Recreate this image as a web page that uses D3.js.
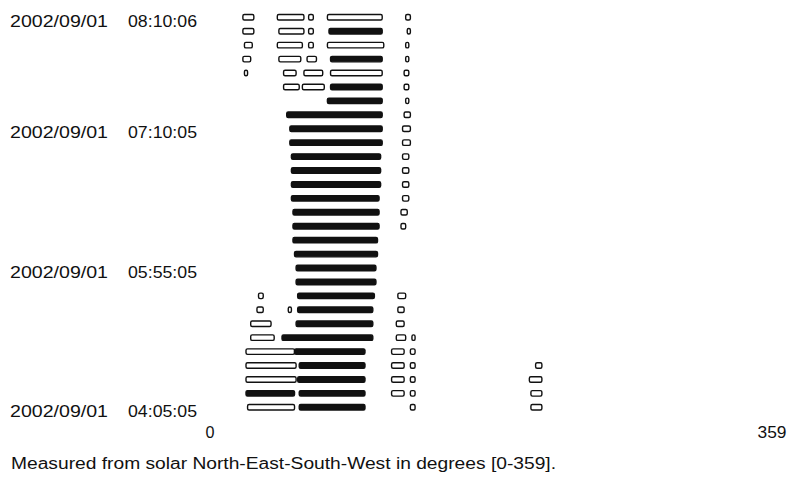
<!DOCTYPE html>
<html>
<head>
<meta charset="utf-8">
<script src="https://cdn.jsdelivr.net/npm/d3@7"></script>
<style>
  body { margin: 0; background: #fff; }
  text { font-family: "Liberation Sans", Arial, sans-serif; fill: #111; }
</style>
</head>
<body>
<div id="chart"></div>
<script>
// rows are numbered from the top (0 = latest reading)
var rowCount = 29

// time labels: [row, date, time]
var timeLabels = [
    [0, "2002/09/01", "08:10:06"],
    [8, "2002/09/01", "07:10:05"],
    [18, "2002/09/01", "05:55:05"],
    [28, "2002/09/01", "04:05:05"]
]

var xTicks = [0, 359]
var caption = "Measured from solar North-East-South-West in degrees [0-359]."

// hollow segments: [row, fromDeg, toDeg]
var hollow = [
    [0, 21, 28], [0, 43, 60], [0, 63, 66], [0, 75, 110], [0, 125, 128],
    [1, 21, 28], [1, 44, 60], [1, 63, 66], [1, 126, 128],
    [2, 22, 27], [2, 43, 59], [2, 63, 66], [2, 75, 111], [2, 125, 127],
    [3, 21, 26], [3, 44, 58], [3, 62, 68], [3, 125, 127],
    [4, 22, 24], [4, 47, 55], [4, 60, 72], [4, 77, 110], [4, 124, 127],
    [5, 47, 57], [5, 59, 73], [5, 124, 127],
    [6, 125, 127],
    [7, 124, 128],
    [8, 123, 128],
    [9, 123, 128],
    [10, 123, 127],
    [11, 123, 127],
    [12, 123, 127],
    [13, 123, 127],
    [14, 122, 126],
    [15, 122, 125],
    [20, 31, 34], [20, 120, 125],
    [21, 30, 34], [21, 50, 52], [21, 120, 124],
    [22, 26, 39], [22, 119, 124],
    [23, 26, 41], [23, 119, 125], [23, 129, 131],
    [24, 23, 54], [24, 116, 124], [24, 128, 131],
    [25, 23, 55], [25, 116, 124], [25, 128, 131], [25, 208, 212],
    [26, 23, 55], [26, 116, 124], [26, 128, 131], [26, 204, 212],
    [27, 116, 124], [27, 128, 131], [27, 205, 212],
    [28, 24, 54], [28, 128, 131], [28, 205, 212]
]

// solid segments: [row, fromDeg, toDeg]
var solid = [
    [1, 76, 110],
    [3, 77, 110],
    [5, 77, 110],
    [6, 75, 110],
    [7, 49, 110],
    [8, 51, 110],
    [9, 51, 110],
    [10, 52, 109],
    [11, 52, 109],
    [12, 52, 109],
    [13, 52, 108],
    [14, 53, 108],
    [15, 53, 108],
    [16, 53, 107],
    [17, 54, 107],
    [18, 55, 106],
    [19, 55, 106],
    [20, 56, 105],
    [21, 56, 104],
    [22, 55, 104],
    [23, 46, 104],
    [24, 54, 99],
    [25, 57, 99],
    [26, 56, 99],
    [27, 23, 54], [27, 57, 99],
    [28, 57, 99]
]

var width = 790,
    height = 478

var svg = d3.select("#chart").append("svg")
    .attr("width", width)
    .attr("height", height)

var x = d3.scaleLinear().domain([0, 359]).range([210, 772]),
    y = d3.scalePoint().domain(d3.range(rowCount)).range([17.3, 407.3])

var barH = 5.5

function drawSegs(data, fill) {
    svg.append("g").selectAll("rect")
        .data(data)
        .enter().append("rect")
        .attr("x", function(d) { return x(d[1]) })
        .attr("y", function(d) { return y(d[0]) - barH / 2 })
        .attr("width", function(d) { return x(d[2]) - x(d[1]) })
        .attr("height", barH)
        .attr("rx", 1.5)
        .attr("fill", fill)
        .attr("stroke", "#111")
        .attr("stroke-width", 1.4)
}
drawSegs(hollow, "#fff")
drawSegs(solid, "#111")

// time labels on the left
var lab = svg.append("g").selectAll("g")
    .data(timeLabels)
    .enter().append("g")
lab.append("text")
    .attr("x", 10)
    .attr("y", function(d) { return y(d[0]) + 9.5 })
    .attr("font-size", 16)
    .attr("textLength", 98)
    .attr("lengthAdjust", "spacingAndGlyphs")
    .text(function(d) { return d[1] })
lab.append("text")
    .attr("x", 128)
    .attr("y", function(d) { return y(d[0]) + 9.5 })
    .attr("font-size", 16)
    .attr("textLength", 69)
    .attr("lengthAdjust", "spacingAndGlyphs")
    .text(function(d) { return d[2] })

// x end labels
svg.append("g").selectAll("text")
    .data(xTicks)
    .enter().append("text")
    .attr("x", function(d) { return x(d) })
    .attr("y", 438)
    .attr("text-anchor", "middle")
    .attr("font-size", 16)
    .attr("textLength", function(d) { return d == 0 ? 9 : 29 })
    .attr("lengthAdjust", "spacingAndGlyphs")
    .text(function(d) { return d })

svg.append("text")
    .attr("x", 11)
    .attr("y", 469)
    .attr("font-size", 16)
    .attr("textLength", 545)
    .attr("lengthAdjust", "spacingAndGlyphs")
    .text(caption)
</script>
</body>
</html>
